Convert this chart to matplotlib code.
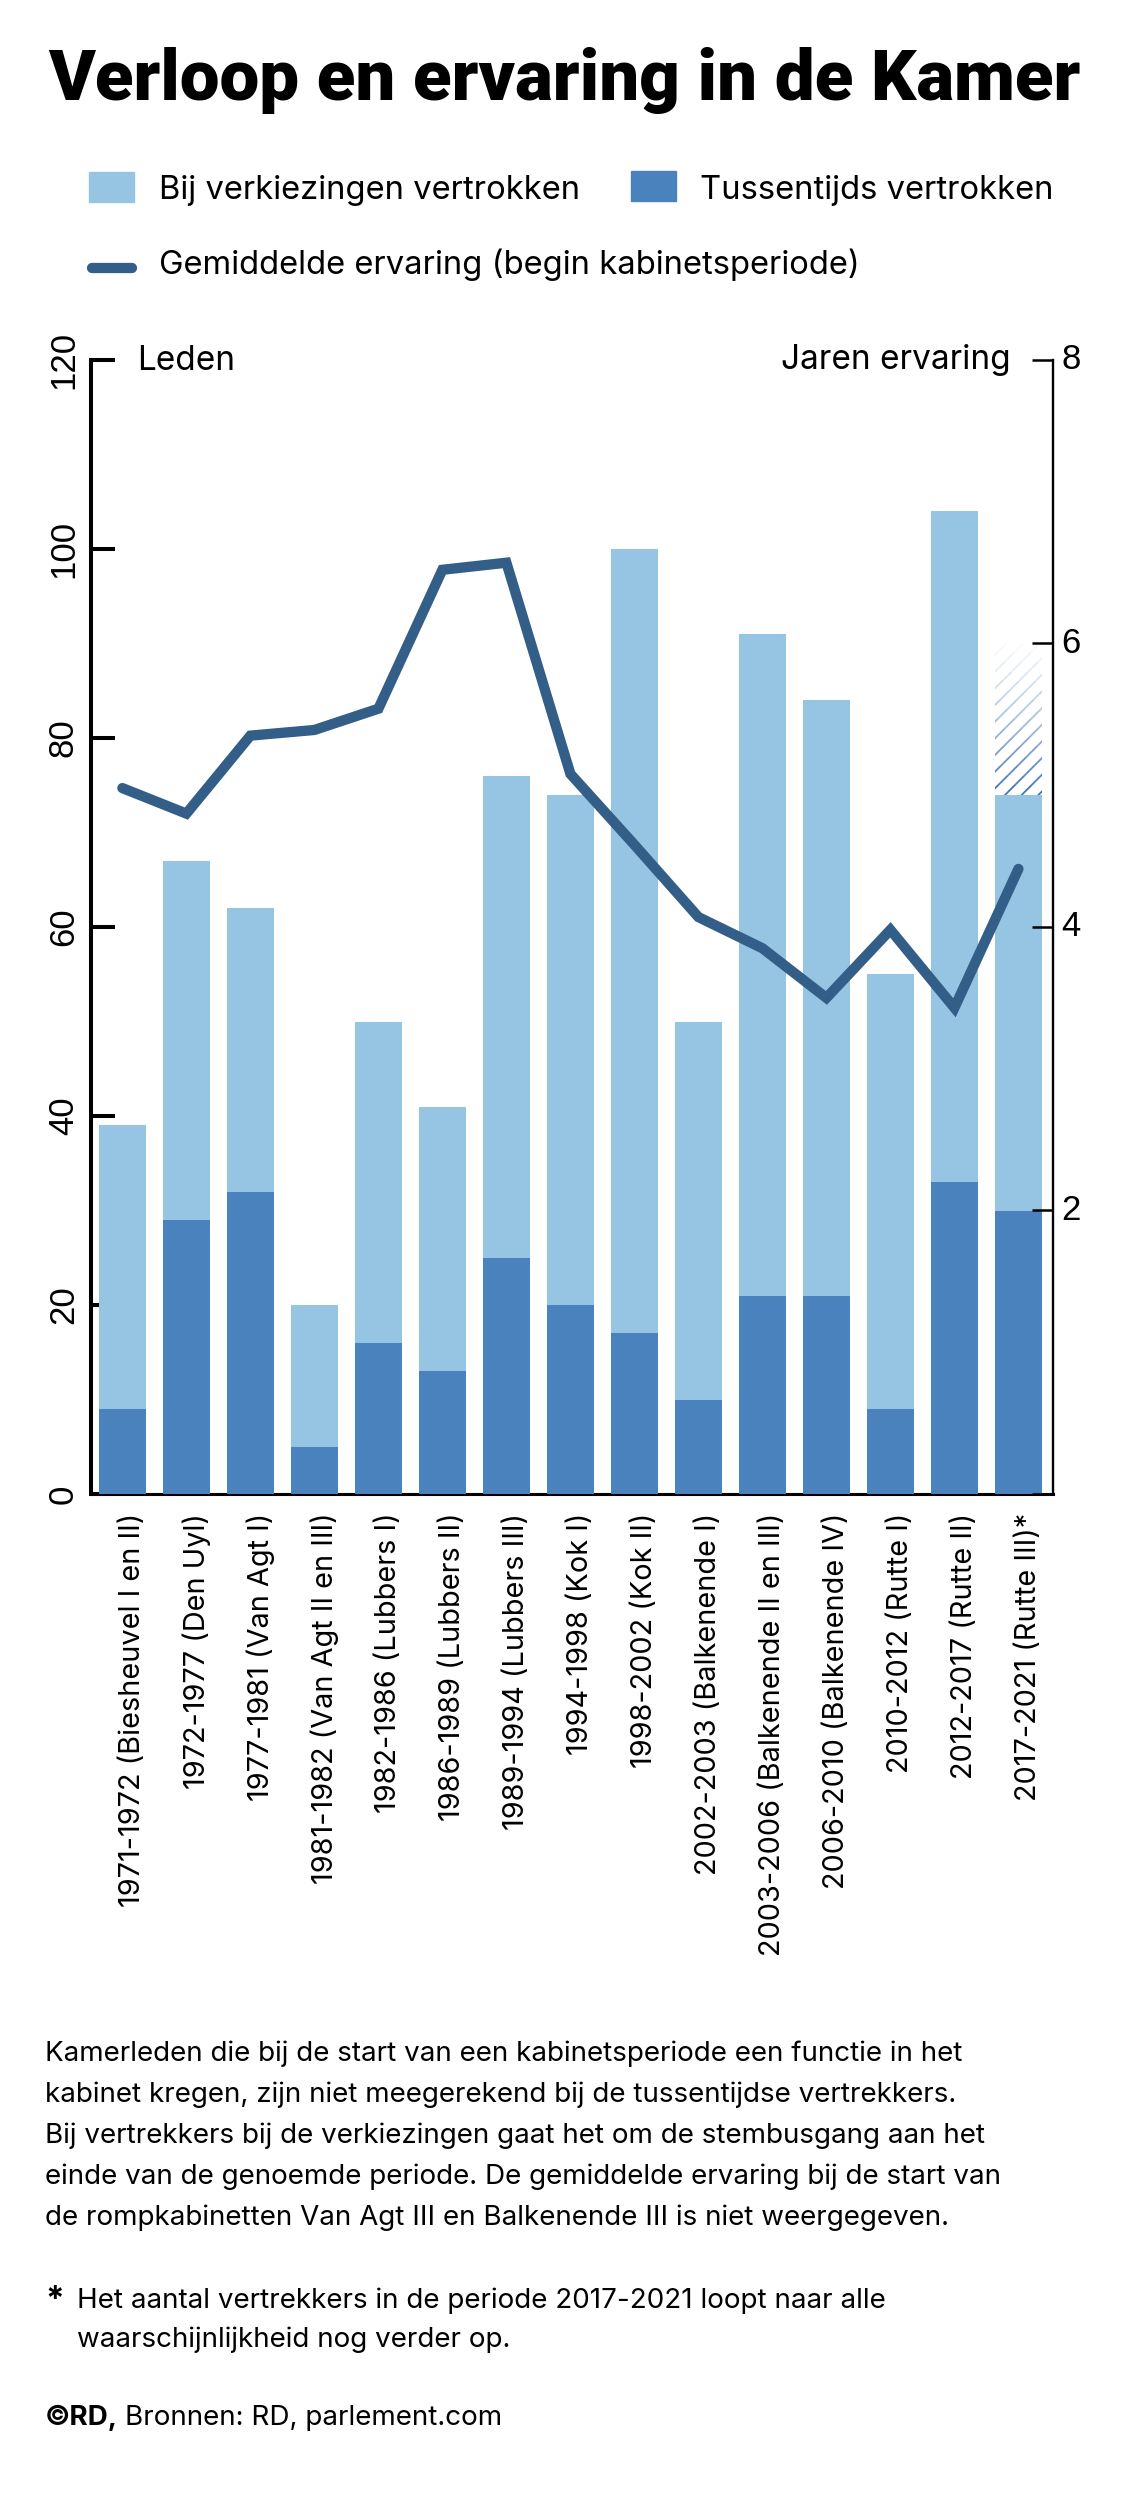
import matplotlib
matplotlib.use("Agg")
import matplotlib.pyplot as plt
import matplotlib.transforms as mtransforms
from matplotlib.patches import Rectangle
from matplotlib.lines import Line2D
import numpy as np

# ---------------- data ----------------
categories = [
    "1971-1972 (Biesheuvel I en II)",
    "1972-1977 (Den Uyl)",
    "1977-1981 (Van Agt I)",
    "1981-1982 (Van Agt II en III)",
    "1982-1986 (Lubbers I)",
    "1986-1989 (Lubbers II)",
    "1989-1994 (Lubbers III)",
    "1994-1998 (Kok I)",
    "1998-2002 (Kok II)",
    "2002-2003 (Balkenende I)",
    "2003-2006 (Balkenende II en III)",
    "2006-2010 (Balkenende IV)",
    "2010-2012 (Rutte I)",
    "2012-2017 (Rutte II)",
    "2017-2021 (Rutte III)*",
]
tussentijds = [9, 29, 32, 5, 16, 13, 25, 20, 17, 10, 21, 21, 9, 33, 30]
totaal = [39, 67, 62, 20, 50, 41, 76, 74, 100, 50, 91, 84, 55, 104, 74]
bij_verkiezingen = [t - s for t, s in zip(totaal, tussentijds)]
ervaring = [4.98, 4.80, 5.35, 5.39, 5.54, 6.52, 6.57, 5.08, 4.58, 4.07,
            3.85, 3.50, 3.98, 3.43, 4.41]
verwacht_top_laatste = 91  # faded hatched projection for 2017-2021

leden_ticks = [0, 20, 40, 60, 80, 100, 120]
jaren_ticks = [0, 2, 4, 6, 8]
jaren_labels = ["", "2", "4", "6", "8"]

# ---------------- style ----------------
LIGHT = "#96C4E3"
DARK = "#4A82BE"
LINEC = "#325E87"
TXT = ["Inter", "Liberation Sans", "DejaVu Sans"]
NUM = ["Liberation Sans Narrow", "Liberation Sans", "DejaVu Sans"]
TITLEF = ["Roboto", "Liberation Sans", "DejaVu Sans"]

plt.rcParams["hatch.linewidth"] = 1.3

W, H = 1146, 2500
fig = plt.figure(figsize=(W / 100, H / 100), dpi=100)
fig.patch.set_facecolor("white")


def fx(px):
    return px / W


def fy(py):
    return 1 - py / H


# ---------------- axes ----------------
ax = fig.add_axes([fx(91), fy(1494), fx(1053) - fx(91), fy(360) - fy(1494)])
x = np.arange(len(categories))
ax.set_xlim(-0.49, 14.54)
ax.set_ylim(0, 120)

bw = 0.74
ax.bar(x, tussentijds, width=bw, color=DARK, zorder=3, linewidth=0)
ax.bar(x, bij_verkiezingen, bottom=tussentijds, width=bw, color=LIGHT,
       zorder=3, linewidth=0)

# fading hatched projection on last bar
last = len(categories) - 1
n_sl = int(verwacht_top_laatste - totaal[last])
white = np.array([1.0, 1.0, 1.0])
hdark = np.array([0x3F, 0x6F, 0xB2]) / 255
for k in range(n_sl):
    t = (1 - (k + 0.5) / n_sl) ** 1.3
    col = white + (hdark - white) * t
    ax.bar(x[last], 1, bottom=totaal[last] + k, width=bw, facecolor="white",
           edgecolor=tuple(col), linewidth=0, hatch="//", zorder=3)

for s in ["top", "right"]:
    ax.spines[s].set_visible(False)
ax.spines["left"].set_linewidth(2.9)
ax.spines["bottom"].set_linewidth(2.2)

ax.set_yticks(leden_ticks)
ax.set_yticklabels([str(v) for v in leden_ticks], fontfamily=NUM, fontsize=25)
ax.tick_params(axis="y", direction="in", length=17, width=2.9, pad=8)
for lab in ax.get_yticklabels():
    lab.set_rotation(90)
    lab.set_va("center")
    lab.set_ha("right")

ax.set_xticks(x)
ax.set_xticklabels(categories, rotation=90, ha="center", va="top",
                   fontfamily=TXT, fontsize=20.8)
ax.tick_params(axis="x", length=0, pad=13.5)
off = mtransforms.ScaledTranslation(0.10, 0, fig.dpi_scale_trans)
for lab in ax.get_xticklabels():
    lab.set_transform(lab.get_transform() + off)

ax2 = ax.twinx()
ax2.set_ylim(0, 8)
for s in ["top", "left", "bottom"]:
    ax2.spines[s].set_visible(False)
ax2.spines["right"].set_linewidth(1.7)
ax2.set_yticks(jaren_ticks)
ax2.set_yticklabels(jaren_labels, fontfamily=NUM, fontsize=25)
ax2.tick_params(axis="y", direction="in", length=15, width=1.8, pad=6)
for lab in ax2.get_yticklabels():
    lab.set_va("center")

ax2.plot(x, ervaring, color=LINEC, lw=7.4, solid_capstyle="round",
         solid_joinstyle="miter", zorder=5)

# axis titles
fig.text(fx(137), fy(370), "Leden", fontfamily=TXT, fontsize=24,
         va="baseline", ha="left")
fig.text(fx(1011), fy(369), "Jaren ervaring", fontfamily=TXT, fontsize=24,
         va="baseline", ha="right")

# ---------------- title ----------------
title = fig.text(fx(564), fy(100), "Verloop en ervaring in de Kamer",
                 fontfamily=TITLEF, fontweight="black", fontsize=40,
                 ha="center", va="baseline")
r = fig.canvas.get_renderer()
bb = title.get_window_extent(renderer=r)
title.set_fontsize(40 * 1032 / bb.width)

# ---------------- legend ----------------
fig.add_artist(Rectangle((fx(89), fy(202)), fx(45), 30 / H,
                         transform=fig.transFigure, color=LIGHT))
fig.add_artist(Rectangle((fx(631), fy(201)), fx(45), 30 / H,
                         transform=fig.transFigure, color=DARK))
fig.add_artist(Line2D([fx(92), fx(132)], [fy(268), fy(268)], lw=7.4,
                      color=LINEC, solid_capstyle="round",
                      transform=fig.transFigure))
fig.text(fx(159), fy(199), "Bij verkiezingen vertrokken", fontfamily=TXT,
         fontsize=23.6, va="baseline")
fig.text(fx(700), fy(199), "Tussentijds vertrokken", fontfamily=TXT,
         fontsize=23.6, va="baseline")
fig.text(fx(159), fy(274), "Gemiddelde ervaring (begin kabinetsperiode)",
         fontfamily=TXT, fontsize=23.6, va="baseline")

# ---------------- notes ----------------
notes = [
    "Kamerleden die bij de start van een kabinetsperiode een functie in het",
    "kabinet kregen, zijn niet meegerekend bij de tussentijdse vertrekkers.",
    "Bij vertrekkers bij de verkiezingen gaat het om de stembusgang aan het",
    "einde van de genoemde periode. De gemiddelde ervaring bij de start van",
    "de rompkabinetten Van Agt III en Balkenende III is niet weergegeven.",
]
for i, line in enumerate(notes):
    fig.text(fx(45), fy(2061 + 41 * i), line, fontfamily=TXT, fontsize=20,
             va="baseline")

fig.text(fx(45), fy(2310), "*", fontfamily=TXT, fontsize=24,
         fontweight="bold", va="baseline")
fig.text(fx(77), fy(2308),
         "Het aantal vertrekkers in de periode 2017-2021 loopt naar alle",
         fontfamily=TXT, fontsize=20, va="baseline")
fig.text(fx(77), fy(2347), "waarschijnlijkheid nog verder op.",
         fontfamily=TXT, fontsize=20, va="baseline")

c1 = fig.text(fx(45), fy(2425), "\u00a9RD,", fontfamily=TXT, fontsize=20,
              fontweight="bold", va="baseline")
cb = c1.get_window_extent(renderer=r)
fig.text(fx(cb.x1 + 7), fy(2425), "Bronnen: RD, parlement.com",
         fontfamily=TXT, fontsize=20, va="baseline")

fig.savefig("out.png", dpi=100, facecolor="white")
